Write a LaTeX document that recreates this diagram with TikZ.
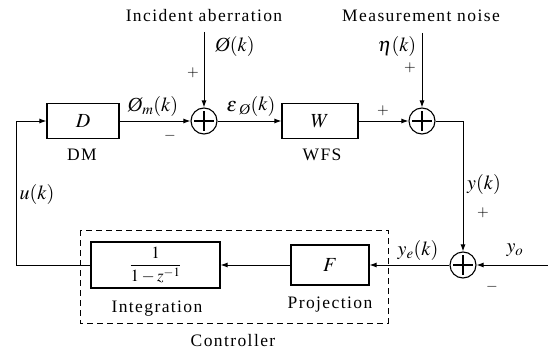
\documentclass[tikz,border=0pt]{standalone}
\usepackage{amsmath}
\usepackage{mathptmx}
\usepackage{fontspec}
\setmainfont{Liberation Serif}
\usetikzlibrary{arrows.meta}
\newcommand{\Oab}{\text{\itshape Ø}}
\begin{document}
\begin{tikzpicture}[x=1pt, y=1pt,
    block/.style={draw, line width=1.1pt, minimum height=35pt, inner sep=0pt},
    sumnode/.style={draw, circle, line width=1.1pt, minimum size=26pt, inner sep=0pt,
      path picture={\draw[line width=1.1pt] ([xshift=-10pt]path picture bounding box.center) -- ([xshift=10pt]path picture bounding box.center);
        \draw[line width=1.1pt] ([yshift=-10pt]path picture bounding box.center) -- ([yshift=10pt]path picture bounding box.center);}},
    lbl/.style={font=\fontsize{17.5}{20}\selectfont\addfontfeature{LetterSpace=8}},
    mlbl/.style={font=\fontsize{20}{22}\selectfont},
    sgn/.style={font=\fontsize{15}{17}\selectfont},
    sig/.style={-{Latex[length=7pt,width=5pt]}, line width=1pt}]
        \useasboundingbox (0,0) rectangle (548,-350);

        % Blocks
        \node[block, minimum width=72pt] (dm) at (83,-121) {\fontsize{20}{22}\selectfont $D$};
        \node[block, minimum width=76pt] (wfs) at (320,-121) {\fontsize{20}{22}\selectfont $W$};
        \node[block, minimum width=78pt, minimum height=40pt] (proj) at (330,-265) {\fontsize{20}{22}\selectfont $F$};
        \node[block, minimum width=129pt, minimum height=46pt] (integ) at (155.5,-265) {\fontsize{17}{20}\selectfont $\dfrac{1}{1-z^{-1}}$};

        % Summing junctions
        \node[sumnode] (sum1) at (204,-121) {};
        \node[sumnode] (sum2) at (422,-121) {};
        \node[sumnode] (sum3) at (463,-265) {};

        % Free ends and corners
        \coordinate (abr) at (204,-32);
        \coordinate (noise) at (422,-33);
        \coordinate (c1) at (463,-121);
        \coordinate (yo) at (548,-265);
        \coordinate (c2) at (16,-265);
        \coordinate (c3) at (16,-121);

        % Signals
        \draw[sig] (abr) -- (sum1);
        \draw[sig] (noise) -- (sum2);
        \draw[sig] (dm) -- (sum1);
        \draw[sig] (sum1) -- (wfs);
        \draw[sig] (wfs) -- (sum2);
        \draw[sig] (sum2) -- (c1) -- (sum3);
        \draw[sig] (yo) -- (sum3);
        \draw[sig] (sum3) -- (proj);
        \draw[sig] (proj) -- (integ);
        \draw[sig] (integ) -- (c2) -- (c3) -- (dm);

        % Controller
        \draw[line width=1pt, dash pattern=on 6pt off 4pt] (80,-230) rectangle (388,-323);
        \node[lbl] (ctrl) at (233,-341) {Controller};

        % Texts
        \node[lbl] (tabr) at (204,-16) {Incident aberration};
        \node[lbl] (tnoise) at (421,-16) {Measurement noise};
        \node[lbl] (tdm) at (82,-155) {DM};
        \node[lbl] (twfs) at (322,-155) {WFS};
        \node[lbl] (tproj) at (330,-305) {Projection};
        \node[lbl] (tinteg) at (157,-309) {Integration};

        % Signal labels
        \node[mlbl] (lphi) at (235,-47) {$\Oab(k)$};
        \node[mlbl] (lphim) at (153,-106) {$\Oab_m(k)$};
        \node[mlbl] (leps) at (251,-106) {${\varepsilon\mkern2mu}_{\Oab}(k)$};
        \node[mlbl] (leta) at (397,-47) {$\eta(k)$};
        \node[mlbl] (ly) at (484,-184) {$y(k)$};
        \node[mlbl] (lye) at (418,-250) {$y_e(k)$};
        \node[mlbl] (lyo) at (515,-250) {$y_o$};
        \node[mlbl] (lu) at (37,-194) {$u(k)$};

        % Signs
        \node[sgn] (s1) at (193,-73) {$+$};
        \node[sgn] (s2) at (170,-136) {$-$};
        \node[sgn] (s3) at (410,-68) {$+$};
        \node[sgn] (s4) at (383,-111) {$+$};
        \node[sgn] (s5) at (483,-213) {$+$};
        \node[sgn] (s6) at (492,-287) {$-$};
\end{tikzpicture}
\end{document}
